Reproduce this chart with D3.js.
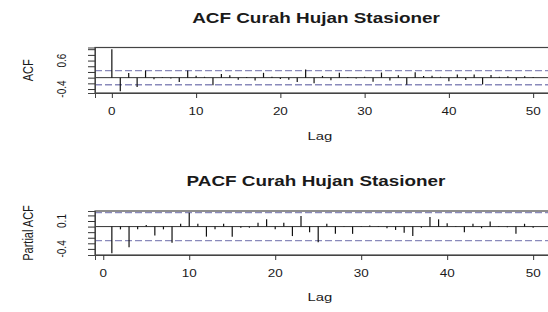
<!DOCTYPE html>
<html lang="en">
  <head>
    <meta charset="UTF-8" />
    <title>ACF / PACF Curah Hujan Stasioner</title>
    <script src="https://d3js.org/d3.v7.min.js"></script>
    <style>
      body {
        margin: 0;
        background: #fff;
      }
      svg text {
        font-family: "Liberation Sans", Arial, sans-serif;
        fill: #1a1a1a;
      }
    </style>
  </head>
  <body>
    <svg id="chart" width="548" height="312"></svg>

    <script>
      // values (lag.max = 50)
      const acfValues = [
        1, -0.48, 0.16, -0.33, 0.25, -0.06, 0.02, -0.03, -0.15, 0.25, 0.07,
        0.03, -0.27, 0.13, 0.08, -0.07, 0.02, -0.1, 0.17, 0.03, -0.05, -0.07,
        -0.15, 0.29, -0.2, 0.06, -0.09, 0.17, 0.02, -0.03, 0.03, -0.14, 0.18,
        -0.1, 0.08, -0.25, 0.19, 0.06, 0.07, 0.03, -0.13, 0.11, -0.08, 0.11,
        -0.24, 0.09, 0.03, 0.05, -0.09, 0.05, 0.02,
      ];
      const pacfValues = [
        -0.48, -0.05, -0.37, -0.05, 0.03, -0.16, -0.05, -0.29, 0.05, 0.25,
        0.05, -0.18, -0.05, 0.05, -0.18, -0.02, -0.02, 0.07, 0.13, -0.05, 0.07,
        -0.17, 0.19, -0.1, -0.28, 0.05, -0.13, 0.01, -0.13, 0.01, 0.02, 0.01,
        -0.03, -0.06, -0.11, -0.17, -0.02, 0.17, 0.13, 0.06, 0.01, -0.1, 0.05,
        -0.03, 0.09, 0.01, -0.01, -0.13, 0.05, -0.02,
      ];
      const clim = 0.25; // 1.96 / sqrt(n)
      const xTicks = [0, 10, 20, 30, 40, 50];
      const acfYTicks = [-0.4, -0.2, 0, 0.2, 0.4, 0.6, 0.8, 1.0];
      const acfYLabels = [-0.4, 0.6];
      const pacfYTicks = [-0.4, -0.3, -0.2, -0.1, 0, 0.1, 0.2];
      const pacfYLabels = [-0.4, 0.1];

      const svg = d3.select("#chart");
      const sx = 1.35; // the source picture is stretched sideways

      function text(x, y, str, size, opts = {}) {
        const rot = opts.rotate ? " rotate(-90) scale(1," + sx + ")" : " scale(" + sx + ",1)";
        svg
          .append("text")
          .attr("transform", `translate(${x},${y})` + rot)
          .attr("text-anchor", "middle")
          .attr("dominant-baseline", opts.middle ? "central" : "auto")
          .style("font-size", size + "px")
          .style("font-weight", opts.bold ? "bold" : "normal")
          .text(str);
      }

      // expand by 4% like R
      function pad(ext) {
        const d = (ext[1] - ext[0]) * 0.04;
        return [ext[0] - d, ext[1] + d];
      }

      function drawPanel(p) {
        const lags = p.values.map((v, i) => i + p.firstLag);
        const x = d3
          .scaleLinear()
          .domain(pad([p.firstLag, lags[lags.length - 1]]))
          .range([95, 550]);
        const y = d3
          .scaleLinear()
          .domain(pad([Math.min(d3.min(p.values), -clim), Math.max(d3.max(p.values), clim)]))
          .range([p.bottom, p.top]);

        const g = svg.append("g");

        // dashed confidence limits
        [clim, -clim].forEach((c) => {
          g.append("line")
            .attr("x1", 95)
            .attr("x2", 550)
            .attr("y1", y(c))
            .attr("y2", y(c))
            .attr("stroke", "#8a8abb")
            .attr("stroke-width", 1.3)
            .attr("stroke-dasharray", "7,3");
        });

        // zero line
        g.append("line")
          .attr("x1", 95)
          .attr("x2", 550)
          .attr("y1", y(0))
          .attr("y2", y(0))
          .attr("stroke", "#333")
          .attr("stroke-width", 1);

        // spikes
        g.selectAll(".spike")
          .data(p.values)
          .join("line")
          .attr("class", "spike")
          .attr("x1", (d, i) => x(i + p.firstLag))
          .attr("x2", (d, i) => x(i + p.firstLag))
          .attr("y1", y(0))
          .attr("y2", (d) => y(d))
          .attr("stroke", "#111")
          .attr("stroke-width", 1.2);

        // box
        g.append("rect")
          .attr("x", 95)
          .attr("y", p.top)
          .attr("width", 455)
          .attr("height", p.bottom - p.top)
          .attr("fill", "none")
          .attr("stroke", "#444")
          .attr("stroke-width", 1.2);

        // axes
        const xAxis = g
          .append("g")
          .attr("transform", `translate(0,${p.bottom})`)
          .call(d3.axisBottom(x).tickValues(xTicks).tickSize(5).tickFormat(""));
        const yAxis = g
          .append("g")
          .attr("transform", "translate(95,0)")
          .call(d3.axisLeft(y).tickValues(p.yTicks).tickSize(7).tickFormat(""));
        [xAxis, yAxis].forEach((a) => {
          a.select(".domain").attr("stroke", "#444");
          a.selectAll(".tick line").attr("stroke", "#333");
        });

        xTicks.forEach((t) => text(x(t), p.bottom + 22, t, 10));
        p.yLabels.forEach((t) => text(61, y(t), t.toFixed(1), 10, { rotate: true, middle: true }));

        text(316, p.titleY, p.title, 14, { bold: true });
        text(320, p.lagY, "Lag", 11);
        text(28, (p.top + p.bottom) / 2, p.ylab, 11, { rotate: true, middle: true });
      }

      drawPanel({
        values: acfValues,
        firstLag: 0,
        top: 47.5,
        bottom: 93,
        yTicks: acfYTicks,
        yLabels: acfYLabels,
        title: "ACF Curah Hujan Stasioner",
        titleY: 23,
        lagY: 140,
        ylab: "ACF",
      });

      drawPanel({
        values: pacfValues,
        firstLag: 1,
        top: 211,
        bottom: 255,
        yTicks: pacfYTicks,
        yLabels: pacfYLabels,
        title: "PACF Curah Hujan Stasioner",
        titleY: 186,
        lagY: 301,
        ylab: "Partial ACF",
      });
    </script>
  </body>
</html>
